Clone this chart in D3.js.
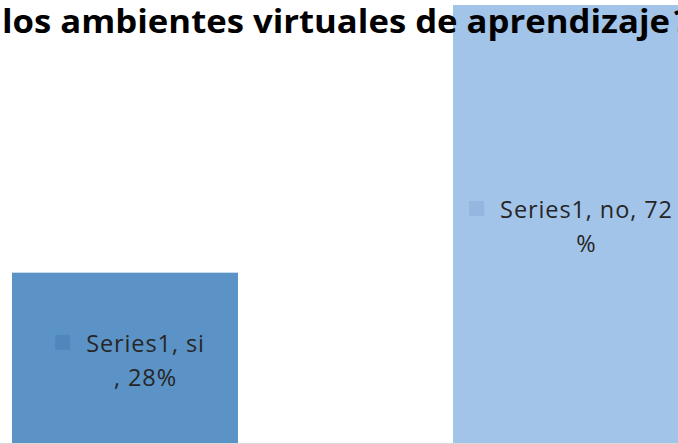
<!DOCTYPE html>
<html>
<head>
<meta charset="utf-8">
<script src="https://cdn.jsdelivr.net/npm/d3@7"></script>
<style>
  body { margin: 0; background: #fff; }
  svg { display: block; }
</style>
</head>
<body>
<svg width="678" height="444"></svg>
<script>
const CATEGORIES = ["si", "no"];
const VALUES = [28, 72];
const SERIES_NAME = "Series1";
const TITLE = "los ambientes virtuales de aprendizaje";

const BAR_COLORS = ["#5b93c7", "#a3c4e9"];
const KEY_COLORS = ["#4f86bc", "#93b7df"];

const AREA = { width: 678, height: 444 };
const FONT = "'Open Sans', sans-serif";

function main() {
  const svg = d3.select("svg");

  const x = d3
    .scaleBand()
    .domain(CATEGORIES)
    .range([12, 679])
    .paddingInner(0.4875)
    .paddingOuter(0);

  const y = d3.scaleLinear().domain([0, 72]).range([443, 5]);

  const data = CATEGORIES.map((c, i) => ({ cat: c, value: VALUES[i], i }));

  // bars
  svg
    .append("g")
    .selectAll("rect")
    .data(data)
    .enter()
    .append("rect")
    .attr("x", (d) => x(d.cat))
    .attr("y", (d) => y(d.value))
    .attr("width", x.bandwidth())
    .attr("height", (d) => y(0) - y(d.value))
    .attr("fill", (d) => BAR_COLORS[d.i]);

  // baseline
  svg
    .append("line")
    .attr("x1", 0)
    .attr("x2", AREA.width)
    .attr("y1", y(0) + 0.5)
    .attr("y2", y(0) + 0.5)
    .attr("stroke", "#d9d9d9")
    .attr("stroke-width", 1);

  // data labels with legend key, Excel-style
  const labels = [
    { line1: `${SERIES_NAME}, ${CATEGORIES[0]}`, line2: `, ${VALUES[0]}%` },
    { line1: `${SERIES_NAME}, ${CATEGORIES[1]}, ${VALUES[1]}`, line2: "%" },
  ];

  const lab = svg
    .append("g")
    .selectAll("g")
    .data(data)
    .enter()
    .append("g");

  lab.each(function (d) {
    const g = d3.select(this);
    const cx = x(d.cat) + x.bandwidth() / 2;
    const base = y(d.value / 2) - 6;
    const t1 = g
      .append("text")
      .attr("font-family", FONT)
      .attr("font-size", 23.5)
      .attr("letter-spacing", 0.9)
      .attr("fill", "#262626")
      .text(labels[d.i].line1);
    const w = t1.node().getComputedTextLength();
    const keySize = 15;
    const gap = 16;
    const total = keySize + gap + w;
    const left = cx - total / 2 + 5;
    const textX = left + keySize + gap;
    t1.attr("x", textX).attr("y", base);

    g.append("rect")
      .attr("x", left)
      .attr("y", base - 17)
      .attr("width", keySize)
      .attr("height", keySize)
      .attr("fill", KEY_COLORS[d.i]);

    g.append("text")
      .attr("font-family", FONT)
      .attr("font-size", 23.5)
      .attr("letter-spacing", 0.9)
      .attr("fill", "#262626")
      .attr("text-anchor", "middle")
      .attr("x", textX + w / 2)
      .attr("y", base + 34)
      .text(labels[d.i].line2);
  });

  // title, drawn over the bars; its end runs past the frame
  svg
    .append("text")
    .attr("x", 2)
    .attr("y", 33)
    .attr("font-family", FONT)
    .attr("font-weight", "bold")
    .attr("font-size", 33)
    .attr("fill", "#000")
    .attr("textLength", 668)
    .attr("lengthAdjust", "spacingAndGlyphs")
    .text(TITLE);

  svg
    .append("text")
    .attr("x", 674)
    .attr("y", 33)
    .attr("font-family", FONT)
    .attr("font-weight", "bold")
    .attr("font-size", 33)
    .attr("fill", "#000")
    .text("?");
}

main();
</script>
</body>
</html>
